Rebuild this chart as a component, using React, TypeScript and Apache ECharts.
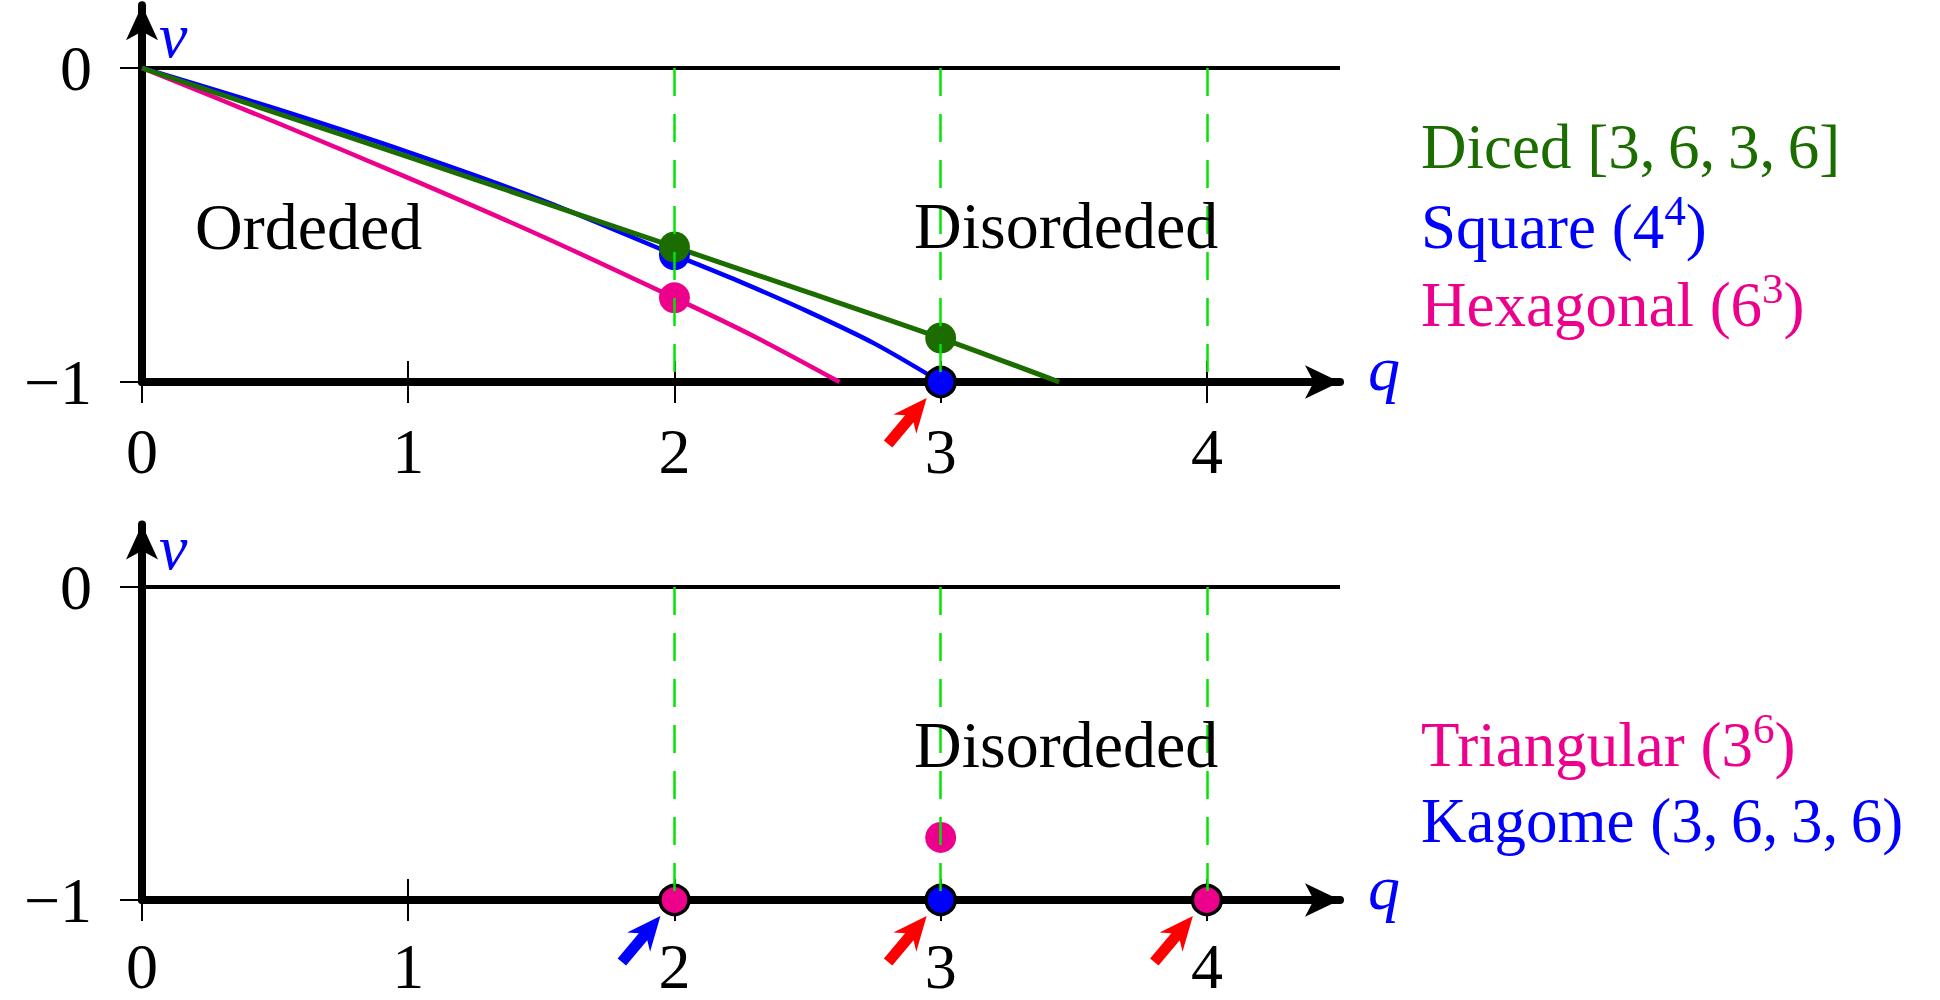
import React, { useEffect, useRef } from 'react';
import * as echarts from 'echarts';

// ---------- data ----------
const qTicks = [0, 1, 2, 3, 4];
const vTicks = [-1, 0];
const criticalQ = [2, 3, 4];
const zeroLineQ = [0, 4.5];
const zeroLineV = [0, 0];

// top panel curves
const dicedQ = [0, 0.5, 1, 1.5, 2, 2.5, 3, 3.445];
const dicedV = [0, -0.142, -0.283, -0.426, -0.57, -0.714, -0.86, -1];
const squareQ = [0, 0.5, 1, 1.5, 2, 2.25, 2.5, 2.75, 3];
const squareV = [0, -0.129, -0.268, -0.42, -0.595, -0.682, -0.775, -0.877, -1];
const hexQ = [0, 0.5, 1, 1.5, 2, 2.3, 2.62];
const hexV = [0, -0.172, -0.35, -0.535, -0.732, -0.855, -1];

// top panel points
const dicedDotQ = [2, 3];
const dicedDotV = [-0.57, -0.86];
const squareDotQ = [2];
const squareDotV = [-0.595];
const squareCritQ = [3];
const squareCritV = [-1];
const hexDotQ = [2];
const hexDotV = [-0.732];
const topRedArrowQ = [3];
const topRedArrowV = [-1];

// bottom panel points
const triCritQ = [2, 4];
const triCritV = [-1, -1];
const triDotQ = [3];
const triDotV = [-0.8];
const kagomeCritQ = [3];
const kagomeCritV = [-1];
const bottomBlueArrowQ = [2];
const bottomBlueArrowV = [-1];
const bottomRedArrowQ = [3, 4];
const bottomRedArrowV = [-1, -1];

// ---------- styles ----------
const GREEN = '#1c6d00';
const BLUE = '#0000ff';
const PINK = '#ec008c';
const DASH = '#00e600';
const RED = '#ff0000';
const SERIF = 'Liberation Serif';

const pairs = (xs: number[], ys: number[]) => xs.map((x, i) => [x, ys[i]]);

function arrowSymbol(tipDx: number, tipDy: number) {
  const ang = (50 * Math.PI) / 180;
  const L = 60, hl = 27, sweep = 7, w = 5.5, hw = 15;
  const d = [Math.cos(ang), -Math.sin(ang)];
  const n = [Math.sin(ang), Math.cos(ang)];
  const pt = (s: number, t: number) => [s * d[0] + t * n[0], s * d[1] + t * n[1]];
  const pts = [pt(0, w), pt(L - hl, w), pt(L - hl - sweep, hw), pt(L, 0), pt(L - hl - sweep, -hw), pt(L - hl, -w), pt(0, -w)];
  const xs = pts.map((p) => p[0]);
  const ys = pts.map((p) => p[1]);
  const minX = Math.min(...xs), maxX = Math.max(...xs), minY = Math.min(...ys), maxY = Math.max(...ys);
  const path = 'path://M' + pts.map((p) => `${(p[0] - minX).toFixed(2)},${(p[1] - minY).toFixed(2)}`).join(' L') + ' Z';
  const cx = (minX + maxX) / 2, cy = (minY + maxY) / 2;
  const tip = pts[3];
  return {
    symbol: path,
    symbolSize: [maxX - minX, maxY - minY],
    symbolOffset: [tipDx - (tip[0] - cx), tipDy - (tip[1] - cy)],
    symbolKeepAspect: false,
  };
}

function arrowMarks(qs: number[], vs: number[], color: string) {
  return {
    ...arrowSymbol(-14, 16),
    silent: true,
    itemStyle: { color, borderWidth: 0 },
    label: { show: false },
    data: qs.map((q, i) => ({ coord: [q, vs[i]] })),
  };
}

const XMAX = 4.5;
const YMAX = 0.2;
const grids = [
  { left: 142, top: 5.2, width: 1198, height: 376.8 },
  { left: 142, top: 524.4, width: 1198, height: 375.6 },
];

function xAxes(gi: number) {
  const tickStyle = { color: '#000', width: 2 };
  return [
    {
      type: 'value', gridIndex: gi, min: 0, max: XMAX, position: 'bottom',
      axisLine: { show: true, onZero: false, lineStyle: { color: '#000', width: 8 }, symbol: ['none', 'arrow'], symbolSize: [25, 35] },
      axisTick: { show: true, inside: false, length: 21, lineStyle: tickStyle, customValues: qTicks },
      axisLabel: { show: true, customValues: qTicks, margin: gi === 0 ? 44 : 41, lineHeight: 50, color: '#000', fontSize: 64, fontFamily: SERIF },
      splitLine: { show: false },
    },
    {
      type: 'value', gridIndex: gi, min: 0, max: XMAX, position: 'top', offset: -grids[gi].height,
      axisLine: { show: false, onZero: false },
      axisTick: { show: true, inside: false, length: 21, lineStyle: tickStyle, customValues: qTicks },
      axisLabel: { show: false },
      splitLine: { show: false },
    },
  ];
}

function yAxis(gi: number) {
  return {
    type: 'value', gridIndex: gi, min: -1, max: YMAX, position: 'left',
    axisLine: { show: true, onZero: false, lineStyle: { color: '#000', width: 8 }, symbol: ['none', 'arrow'], symbolSize: [24, 35] },
    axisTick: { show: true, length: 22, lineStyle: { color: '#000', width: 2 }, customValues: vTicks },
    axisLabel: {
      show: true, customValues: vTicks, margin: 50, color: '#000', fontSize: 64, fontFamily: SERIF,
      formatter: (v: number) => (v === 0 ? '0' : '\u22121'),
    },
    splitLine: { show: false },
  };
}

function zeroAndDashes(xi: number, yi: number) {
  return {
    type: 'line', xAxisIndex: xi, yAxisIndex: yi, z: 1,
    data: pairs(zeroLineQ, zeroLineV), showSymbol: false, silent: true,
    lineStyle: { color: '#000', width: 4 },
    markLine: {
      silent: true, symbol: ['none', 'none'], label: { show: false },
      lineStyle: { color: DASH, width: 2.5, type: [28, 18] },
      data: criticalQ.map((q) => [{ coord: [q, 0] }, { coord: [q, -1] }]),
    },
  };
}

function curve(xi: number, yi: number, qs: number[], vs: number[], color: string, width: number) {
  return {
    type: 'line', xAxisIndex: xi, yAxisIndex: yi, z: 2, data: pairs(qs, vs),
    smooth: 0.3,
    showSymbol: false, silent: true, lineStyle: { color, width, cap: 'butt' },
  };
}

function dots(xi: number, yi: number, qs: number[], vs: number[], color: string, bordered: boolean, extra: any = {}) {
  return {
    type: 'scatter', xAxisIndex: xi, yAxisIndex: yi, z: 3, data: pairs(qs, vs), silent: true,
    symbol: 'circle', symbolSize: bordered ? 29 : 31,
    itemStyle: bordered ? { color, borderColor: '#000', borderWidth: 3.5, opacity: 1 } : { color, opacity: 1 },
    ...extra,
  };
}

function text(t: string, x: number, y: number, color: string, fontSize: number, italic = false, rich?: any, lineHeight?: number) {
  return {
    type: 'text', x, y, z: 20, silent: true,
    style: {
      text: t, fill: color, fontSize, fontFamily: SERIF, fontStyle: italic ? 'italic' : 'normal',
      align: 'left', verticalAlign: 'middle', lineHeight: lineHeight ?? (rich ? 77 : undefined), rich,
    },
  };
}

function legendText(t: string, x: number, y: number, color: string) {
  return text(t, x, y, color, 63, false, {
    sup: { fontSize: 43, lineHeight: 43, verticalAlign: 'top', fill: color, fontFamily: SERIF },
  });
}

export default function App() {
  const ref = useRef<HTMLDivElement>(null);
  useEffect(() => {
    document.body.style.margin = '0';
    if (!ref.current) return;
    const chart = echarts.init(ref.current, undefined, { renderer: 'svg' });
    chart.setOption({
      animation: false,
      backgroundColor: '#fff',
      grid: grids,
      xAxis: [...xAxes(0), ...xAxes(1)],
      yAxis: [yAxis(0), yAxis(1)],
      series: [
        // top panel
        zeroAndDashes(0, 0),
        curve(0, 0, hexQ, hexV, PINK, 4.5),
        curve(0, 0, squareQ, squareV, BLUE, 4.5),
        curve(0, 0, dicedQ, dicedV, GREEN, 5),
        dots(0, 0, hexDotQ, hexDotV, PINK, false),
        dots(0, 0, squareDotQ, squareDotV, BLUE, false),
        dots(0, 0, squareCritQ, squareCritV, BLUE, true, { markPoint: arrowMarks(topRedArrowQ, topRedArrowV, RED) }),
        dots(0, 0, dicedDotQ, dicedDotV, GREEN, false),
        // bottom panel
        zeroAndDashes(2, 1),
        dots(2, 1, triDotQ, triDotV, PINK, false),
        dots(2, 1, triCritQ, triCritV, PINK, true, { markPoint: arrowMarks(bottomBlueArrowQ, bottomBlueArrowV, BLUE) }),
        dots(2, 1, kagomeCritQ, kagomeCritV, BLUE, true, { markPoint: arrowMarks(bottomRedArrowQ, bottomRedArrowV, RED) }),
      ],
      graphic: [
        text('v', 159, 35, BLUE, 64, true, undefined, 40),
        text('q', 1368, 368, BLUE, 64, true, undefined, 40),
        text('v', 159, 547, BLUE, 64, true, undefined, 40),
        text('q', 1368, 887, BLUE, 64, true, undefined, 40),
        text('Ordeded', 195, 226, '#000', 66),
        text('Disordeded', 914, 225, '#000', 66),
        text('Disordeded', 914, 744, '#000', 66),
        legendText('Diced [3,\u20096,\u20093,\u20096]', 1421, 147, GREEN),
        legendText('Square (4{sup|4})', 1421, 227, BLUE),
        legendText('Hexagonal (6{sup|3})', 1421, 305, PINK),
        legendText('Triangular (3{sup|6})', 1421, 745, PINK),
        legendText('Kagome (3,\u20096,\u20093,\u20096)', 1421, 821, BLUE),
      ],
    });
    return () => chart.dispose();
  }, []);
  return <div ref={ref} style={{ width: 1940, height: 1000 }} />;
}
